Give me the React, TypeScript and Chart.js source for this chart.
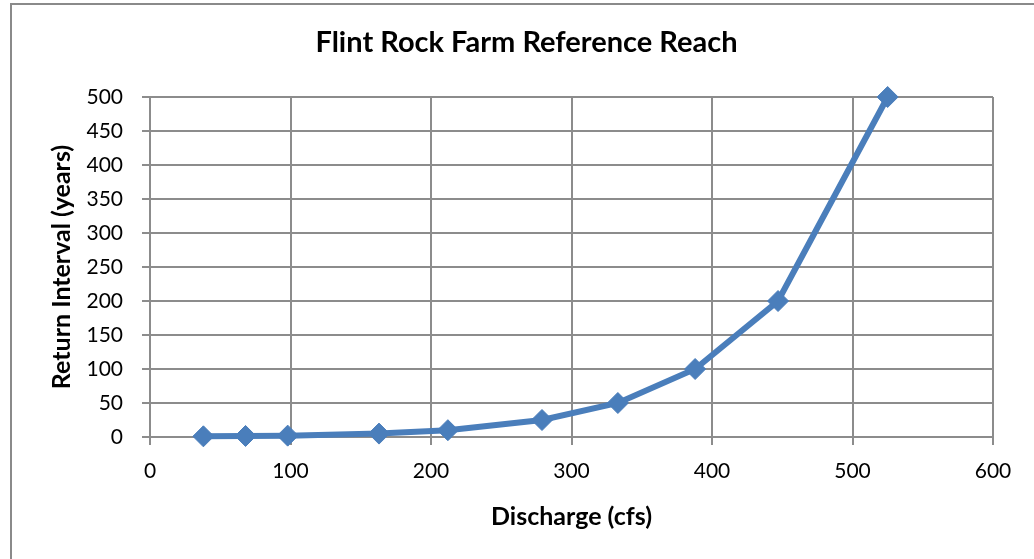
import React, { useEffect, useRef } from "react";
import { Chart, registerables } from "chart.js";

Chart.register(...registerables);

const chartTitle = "Flint Rock Farm Reference Reach";
const xAxisTitle = "Discharge (cfs)";
const yAxisTitle = "Return Interval (years)";
const discharge = [38, 68, 98, 163, 212, 279, 333, 388, 447, 525];
const returnInterval = [1.01, 1.5, 2, 5, 10, 25, 50, 100, 200, 500];

const FONT = "Lato, 'Open Sans', sans-serif";

const frame = {
  id: "frame",
  beforeDraw(chart: any) {
    const ctx = chart.ctx;
    ctx.save();
    ctx.fillStyle = "#ffffff";
    ctx.fillRect(0, 0, chart.width, chart.height);
    ctx.strokeStyle = "#8a8a8a";
    ctx.lineWidth = 2;
    ctx.strokeRect(11, 4, 1100, 700);
    ctx.restore();
  },
};

export default function App() {
  const ref = useRef<HTMLCanvasElement>(null);
  useEffect(() => {
    if (!ref.current) return;
    const chart = new Chart(ref.current, {
      type: "scatter",
      data: {
        datasets: [
          {
            data: discharge.map((x, i) => ({ x, y: returnInterval[i] })),
            showLine: true,
            clip: false,
            borderColor: "#4a7ebb",
            backgroundColor: "#4a7ebb",
            borderWidth: 6,
            pointStyle: "rectRot",
            pointRadius: 10.5,
            pointBorderWidth: 1,
            pointBackgroundColor: "#4a7ebb",
            pointBorderColor: "#4a7ebb",
            tension: 0,
          },
        ],
      },
      options: {
        responsive: false,
        animation: false,
        layout: { padding: { left: 60, right: 41, top: 0, bottom: 0 } },
        plugins: {
          legend: { display: false },
          tooltip: { enabled: false },
          title: {
            display: true,
            text: chartTitle,
            color: "#000",
            font: { family: FONT, size: 29, weight: "bold" },
            padding: { top: 25, bottom: 37.2 },
          },
        },
        scales: {
          x: {
            type: "linear",
            min: 0,
            max: 600,
            afterFit: (s: any) => {
              s.height = 122;
            },
            ticks: {
              stepSize: 100,
              color: "#000",
              font: { family: FONT, size: 21 },
              padding: 14,
            },
            grid: { color: "#8c8c8c", lineWidth: 2, tickLength: 8 },
            border: { display: false },
            title: {
              display: true,
              text: xAxisTitle,
              color: "#000",
              font: { family: FONT, size: 25, weight: "bold" },
              padding: { top: 12, bottom: 27 },
            },
          },
          y: {
            type: "linear",
            min: 0,
            max: 500,
            afterFit: (s: any) => {
              s.width = 90;
            },
            ticks: {
              stepSize: 50,
              color: "#000",
              font: { family: FONT, size: 21 },
              padding: 19,
            },
            grid: { color: "#8c8c8c", lineWidth: 2, tickLength: 8 },
            border: { display: false },
            title: {
              display: true,
              text: yAxisTitle,
              color: "#000",
              font: { family: FONT, size: 25, weight: "bold" },
              padding: { top: -13, bottom: 0 },
            },
          },
        },
      },
      plugins: [frame],
    });
    return () => chart.destroy();
  }, []);
  return (
    <div style={{ position: "absolute", left: 0, top: 0, width: 1034, height: 559 }}>
      <canvas ref={ref} width={1034} height={559} />
    </div>
  );
}
